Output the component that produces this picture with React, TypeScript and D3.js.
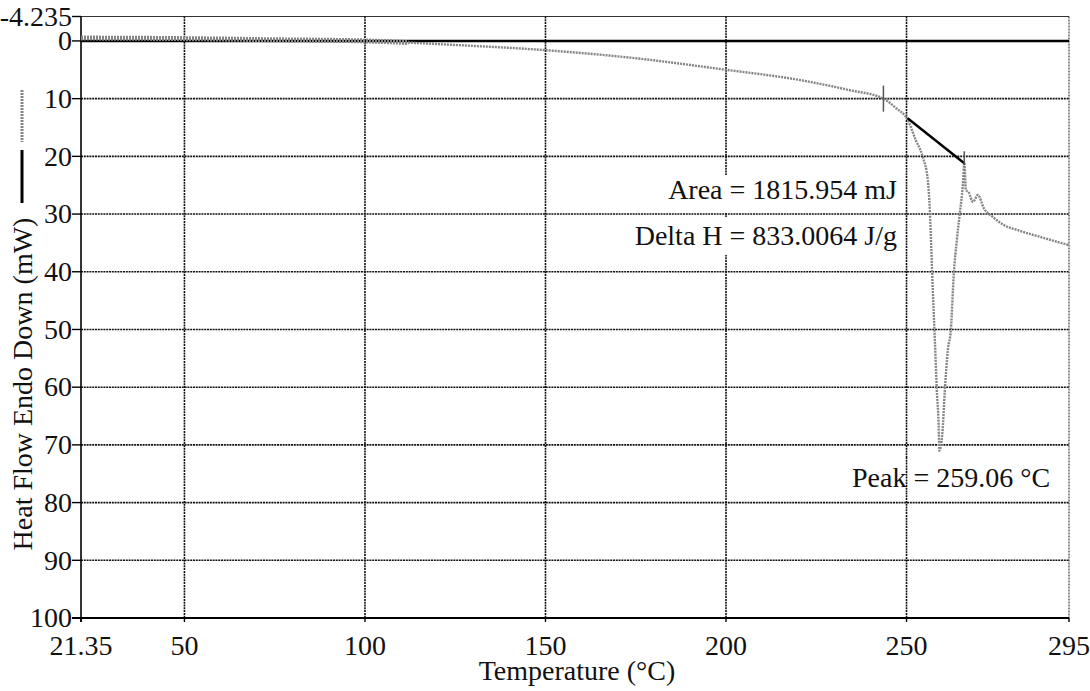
import React from "react";
import * as d3 from "d3";

// Temperature axis (°C) and heat flow axis (mW, endo down)
const tempDomain = [21.35, 295];
const heatDomain = [-4.235, 100];
const tempTickLabels = [21.35, 50, 100, 150, 200, 250, 295];
const heatTickLabels = [-4.235, 0, 10, 20, 30, 40, 50, 60, 70, 80, 90, 100];
const tempGrid = [50, 100, 150, 200, 250];
const heatGrid = [10, 20, 30, 40, 50, 60, 70, 80, 90];

// DSC trace
const curveTemp = [
  21.35, 50, 75, 100, 125, 150, 175, 200, 220.7, 234, 243.6, 247, 250.35,
  252.57, 254.5, 255.89, 256.45, 256.87, 257.28, 257.84, 258.39, 258.95, 259.06,
  259.92, 260.61, 261.44, 262.28, 263.11, 263.94, 264.77, 265.6, 266.01, 266.43,
  267.26, 268.37, 269.76, 271.42, 273.91, 277.24, 280.85, 287.22, 295,
];
const curveHeat = [
  -0.5, -0.4, -0.2, 0.0, 0.7, 1.6, 3.0, 5.0, 6.8, 8.5, 10.0, 11.6, 13.7,
  17.2, 20.1, 24.1, 29.3, 36.2, 43.2, 51.8, 60.5, 68.0, 71.0,
  68.0, 60.5, 53.6, 50.0, 40.2, 34.5, 29.8, 25.0, 21.1, 25.8,
  26.3, 27.9, 26.7, 29.0, 30.5, 32.0, 32.8, 34.0, 35.4,
];

// Integration baseline and onset marker
const baselineTemp = [250.3, 266.0];
const baselineHeat = [13.4, 21.2];
const onsetTemp = 243.6;
const onsetHeat = 10.0;
const endTemp = 266.0;
const endHeat = 21.2;

// Result annotations
const areaLabel = "Area = 1815.954 mJ";
const deltaHLabel = "Delta H = 833.0064 J/g";
const peakLabel = "Peak = 259.06 °C";
const xTitle = "Temperature (°C)";
const yTitle = "Heat Flow Endo Down (mW)";

const W = 1090;
const H = 691;
const left = 81;
const right = 1069;
const top = 16.5;
const bottom = 618;
const FONT = "Liberation Serif";
const FS = 28;
const txt = { fontFamily: FONT, fontSize: FS, fill: "#111" } as React.CSSProperties;

export default function App() {
  const x = d3.scaleLinear().domain(tempDomain).range([left, right]);
  const y = d3.scaleLinear().domain(heatDomain).range([top, bottom]);

  const pts: [number, number][] = curveTemp.map((t, i) => [t, curveHeat[i]]);
  const line = d3
    .line<[number, number]>()
    .x((d) => x(d[0]))
    .y((d) => y(d[1]))
    .curve(d3.curveMonotoneX);
  const curvePath = line(pts) || "";
  const basePath =
    d3
      .line<number>()
      .x((t) => x(t))
      .y((_, i) => y(baselineHeat[i]))(baselineTemp) || "";

  const gridStroke = "#111";
  const traceStroke = "#858585";

  return (
    <svg
      width={W}
      height={H}
      style={{ position: "absolute", left: 0, top: 0, background: "#fff" }}
    >
      <defs>
        <clipPath id="earlyClip">
          <rect x={left} y={0} width={x(112) - left} height={H} />
        </clipPath>
      </defs>

      {/* frame */}
      <line x1={left} x2={right} y1={y(-4.235)} y2={y(-4.235)} stroke="#333" strokeWidth={1.2} />
      <line x1={right} x2={right} y1={y(-4.235)} y2={bottom} stroke="#444" strokeWidth={1.2} strokeDasharray="2,1" />

      {/* grid */}
      {tempGrid.map((t) => (
        <line key={"v" + t} x1={x(t)} x2={x(t)} y1={top} y2={bottom} stroke={gridStroke} strokeWidth={1.6} strokeDasharray="2,0.8" />
      ))}
      {heatGrid.map((h) => (
        <line key={"h" + h} x1={left} x2={right} y1={y(h)} y2={y(h)} stroke={gridStroke} strokeWidth={1.6} strokeDasharray="2,0.8" />
      ))}
      {/* zero reference line */}
      <line x1={left} x2={right} y1={y(0)} y2={y(0)} stroke="#000" strokeWidth={2.6} />

      {/* axes */}
      <line x1={left} x2={left} y1={top} y2={bottom + 4} stroke="#000" strokeWidth={1.6} />
      <line x1={left - 9} x2={right} y1={bottom} y2={bottom} stroke="#000" strokeWidth={1.8} />

      {heatTickLabels.map((h) => (
        <g key={"yt" + h}>
          <line x1={left - 9} x2={left} y1={y(h)} y2={y(h)} stroke="#000" strokeWidth={1.4} />
          <text x={left - 9} y={y(h)} dy="0.33em" textAnchor="end" style={txt}>
            {h}
          </text>
        </g>
      ))}
      {tempTickLabels.map((t) => (
        <g key={"xt" + t}>
          <line x1={x(t)} x2={x(t)} y1={bottom} y2={bottom + 4} stroke="#000" strokeWidth={1.4} />
          <text x={x(t)} y={655} textAnchor="middle" style={txt}>
            {t}
          </text>
        </g>
      ))}

      {/* annotation boxes */}
      <rect x={662} y={175} width={238} height={38} fill="#fff" />
      <rect x={620} y={217} width={280} height={38} fill="#fff" />
      <rect x={846} y={457} width={208} height={36} fill="#fff" />
      <text x={897} y={199} textAnchor="end" style={txt}>{areaLabel}</text>
      <text x={897} y={245} textAnchor="end" style={txt}>{deltaHLabel}</text>
      <text x={852} y={487} style={txt}>{peakLabel}</text>
      <line x1={x(250)} x2={x(250)} y1={457} y2={493} stroke={gridStroke} strokeWidth={1.6} strokeDasharray="2,0.8" />

      {/* trace */}
      <path d={curvePath} fill="none" stroke={traceStroke} strokeWidth={2.4} strokeDasharray="2,1" />
      <path d={curvePath} fill="none" stroke={traceStroke} strokeWidth={5} strokeDasharray="2,1" clipPath="url(#earlyClip)" />

      {/* integration baseline and markers */}
      <path d={basePath} fill="none" stroke="#000" strokeWidth={2.4} />
      <line x1={x(onsetTemp)} x2={x(onsetTemp)} y1={y(onsetHeat) - 13} y2={y(onsetHeat) + 13} stroke="#555" strokeWidth={1.5} />
      <line x1={x(endTemp)} x2={x(endTemp)} y1={y(endHeat) - 12} y2={y(endHeat) + 2} stroke="#555" strokeWidth={1.5} />

      {/* axis titles */}
      <text x={(left + right) / 2 + 2} y={680} textAnchor="middle" style={txt}>{xTitle}</text>
      <text transform={`translate(32, 384) rotate(-90)`} textAnchor="middle" style={txt}>{yTitle}</text>
      {/* trace legend marks */}
      <line x1={22} x2={22} y1={90} y2={142} stroke={traceStroke} strokeWidth={3} strokeDasharray="2,1" />
      <line x1={22} x2={22} y1={150} y2={203} stroke="#000" strokeWidth={3} />
    </svg>
  );
}
